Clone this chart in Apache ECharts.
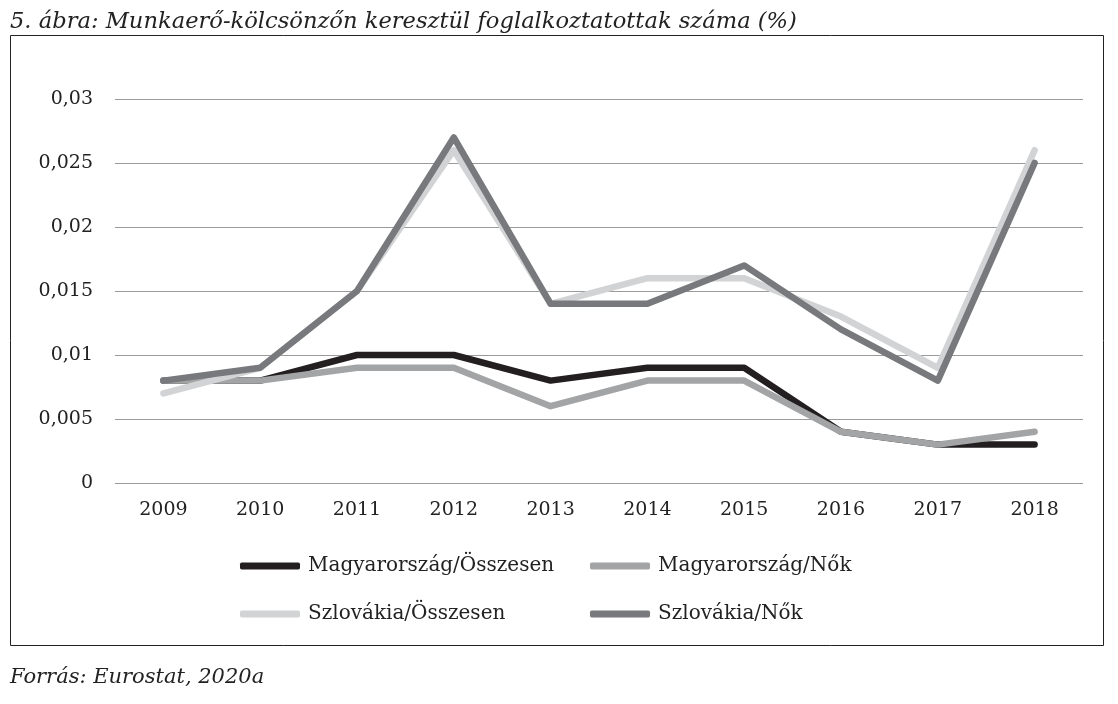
<!DOCTYPE html>
<html>
<head>
<meta charset="utf-8">
<script src="https://cdn.jsdelivr.net/npm/echarts@6/dist/echarts.min.js"></script>
<style>
  html, body { margin: 0; padding: 0; background: #fff; }
  #chart { width: 1118px; height: 704px; }
</style>
</head>
<body>
<div id="chart"></div>
<script>
const years = ['2009', '2010', '2011', '2012', '2013', '2014', '2015', '2016', '2017', '2018'];
const huTotal = [0.008, 0.008, 0.010, 0.010, 0.008, 0.009, 0.009, 0.004, 0.003, 0.003];
const huWomen = [0.008, 0.008, 0.009, 0.009, 0.006, 0.008, 0.008, 0.004, 0.003, 0.004];
const skTotal = [0.007, 0.009, 0.015, 0.026, 0.014, 0.016, 0.016, 0.013, 0.009, 0.026];
const skWomen = [0.008, 0.009, 0.015, 0.027, 0.014, 0.014, 0.017, 0.012, 0.008, 0.025];
const seriesNames = ['Magyarország/Összesen', 'Magyarország/Nők', 'Szlovákia/Összesen', 'Szlovákia/Nők'];
const seriesColors = ['#231f20', '#a2a4a5', '#d2d3d5', '#78797c'];

const serif = '"DejaVu Serif", "Liberation Serif", serif';
const allData = [huTotal, huWomen, skTotal, skWomen];

const chart = echarts.init(document.getElementById('chart'));

// legend positions: two columns, two rows
const legendPos = [[235, 551], [585, 551], [235, 599], [585, 599]];

chart.setOption({
    backgroundColor: '#fff',
    animation: false,
    textStyle: { fontFamily: serif },
    graphic: [
        {
            type: 'text', left: 10, top: 11,
            style: {
                text: '5. ábra: Munkaerő-kölcsönzőn keresztül foglalkoztatottak száma (%)',
                font: 'italic 22.6px ' + serif, fill: '#222'
            }
        },
        {
            type: 'rect', shape: { x: 10.5, y: 35.5, width: 1093, height: 610 },
            style: { fill: 'none', stroke: '#222', lineWidth: 1 }, z: -1
        },
        {
            type: 'text', left: 10, top: 667,
            style: { text: 'Forrás: Eurostat, 2020a', font: 'italic 21px ' + serif, fill: '#222' }
        }
    ],
    legend: seriesNames.map((name, i) => ({
        data: [name],
        left: legendPos[i][0],
        top: legendPos[i][1],
        icon: 'roundRect',
        itemWidth: 60,
        itemHeight: 7,
        itemGap: 0,
        textStyle: { fontFamily: serif, fontSize: 20, color: '#222', padding: [0, 0, 0, 3] }
    })),
    grid: { left: 115, right: 35, top: 99, bottom: 221 },
    xAxis: {
        type: 'category',
        data: years,
        boundaryGap: true,
        axisLine: { show: false },
        axisTick: { show: false },
        axisLabel: { fontFamily: serif, fontSize: 19, color: '#222', margin: 18 }
    },
    yAxis: {
        type: 'value',
        min: 0,
        max: 0.03,
        interval: 0.005,
        axisLine: { show: false },
        axisTick: { show: false },
        splitLine: { lineStyle: { color: '#9a9a9a', width: 1 } },
        axisLabel: {
            fontFamily: serif, fontSize: 19, color: '#222', margin: 22,
            formatter: v => String(+v.toFixed(3)).replace('.', ',')
        }
    },
    series: seriesNames.map((name, i) => ({
        name: name,
        type: 'line',
        data: allData[i],
        color: seriesColors[i],
        showSymbol: false,
        symbol: 'none',
        lineStyle: { width: 6.5, cap: 'round', join: 'round' }
    }))
});
</script>
</body>
</html>
